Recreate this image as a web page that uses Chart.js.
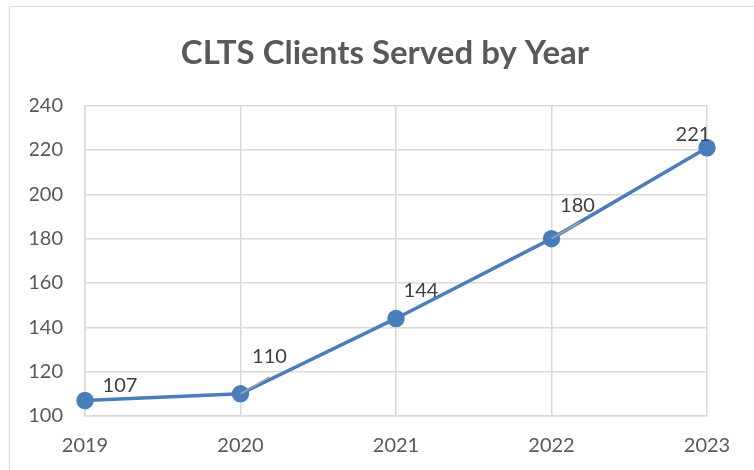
<!DOCTYPE html>
<html>
<head>
<meta charset="utf-8">
<script src="https://cdn.jsdelivr.net/npm/chart.js@4"></script>
<style>
  html, body { margin: 0; padding: 0; background: #fff; overflow: hidden; }
  #wrap { position: relative; width: 754px; height: 470px; }
  #frame { position: absolute; left: 9px; top: 6px; width: 800px; height: 500px;
           border-left: 1.5px solid #d9d9d9; border-top: 1.5px solid #d9d9d9; }
  canvas { position: absolute; left: 0; top: 0; }
</style>
</head>
<body>
<div id="wrap">
  <div id="frame"></div>
  <canvas id="chart" width="754" height="470"></canvas>
</div>
<script>
var years = ["2019", "2020", "2021", "2022", "2023"];
var clients = [107, 110, 144, 180, 221];
var yTicks = [100, 120, 140, 160, 180, 200, 220, 240];

// label nudges (px) like the Excel data labels, and which get a leader line
var labelShift = [[35, -15], [29, -37], [25, -28], [26, -33], [-14, -13]];
var leader = [false, true, false, true, false];

var valueLabels = {
	id: "valueLabels",
	afterDatasetsDraw: function (chart) {
		var ctx = chart.ctx;
		var pts = chart.getDatasetMeta(0).data;
		ctx.save();
		for (let i = 0; i < pts.length; i++) {
			var x = pts[i].x, y = pts[i].y;
			var lx = x + labelShift[i][0], ly = y + labelShift[i][1];
			if (leader[i]) {
				ctx.strokeStyle = "#a6a6a6";
				ctx.lineWidth = 1.5;
				ctx.beginPath();
				ctx.moveTo(x, y);
				ctx.lineTo(x + 29, y - 17);
				ctx.stroke();
			}
			ctx.fillStyle = "#404040";
			ctx.font = "20px Lato";
			ctx.textAlign = "center";
			ctx.textBaseline = "middle";
			ctx.fillText(String(clients[i]), lx, ly);
		}
		ctx.restore();
	}
};

new Chart(document.getElementById("chart"), {
	type: "line",
	data: {
		labels: years,
		datasets: [{
			label: "Clients",
			data: clients,
			borderColor: "#4a7ebb",
			backgroundColor: "#4a7ebb",
			borderWidth: 3.5,
			pointRadius: 7,
			pointHoverRadius: 7,
			tension: 0,
			fill: false
		}]
	},
	options: {
		responsive: false,
		animation: false,
		layout: { padding: { left: 30, right: 14, top: 0, bottom: -6 } },
		plugins: {
			legend: { display: false },
			tooltip: { enabled: false },
			title: {
				display: true,
				text: "CLTS Clients Served by Year",
				color: "#595959",
				font: { family: "Lato", size: 33, weight: "bold" },
				padding: { top: 34, bottom: 32 }
			}
		},
		scales: {
			x: {
				offset: false,
				grid: { color: "#d9d9d9", lineWidth: 1.5, drawTicks: false },
				border: { color: "#d9d9d9", width: 1.5 },
				ticks: { color: "#595959", font: { family: "Lato", size: 20 }, padding: 18, maxRotation: 0 }
			},
			y: {
				min: 100,
				max: 240,
				afterBuildTicks: function (axis) {
					axis.ticks = yTicks.map(function (v) { return { value: v }; });
				},
				afterFit: function (axis) { axis.width = 55; },
				grid: { color: "#d9d9d9", lineWidth: 1.5, drawTicks: false },
				border: { color: "#d9d9d9", width: 1.5 },
				ticks: { color: "#595959", font: { family: "Lato", size: 20 }, padding: 22 }
			},
			// empty spacer on the right so the plot ends where Excel's does
			spacer: {
				type: "linear",
				position: "right",
				grid: { display: false },
				border: { display: false },
				ticks: { display: false },
				afterFit: function (axis) { axis.width = 33; }
			}
		}
	},
	plugins: [valueLabels]
});
</script>
</body>
</html>
